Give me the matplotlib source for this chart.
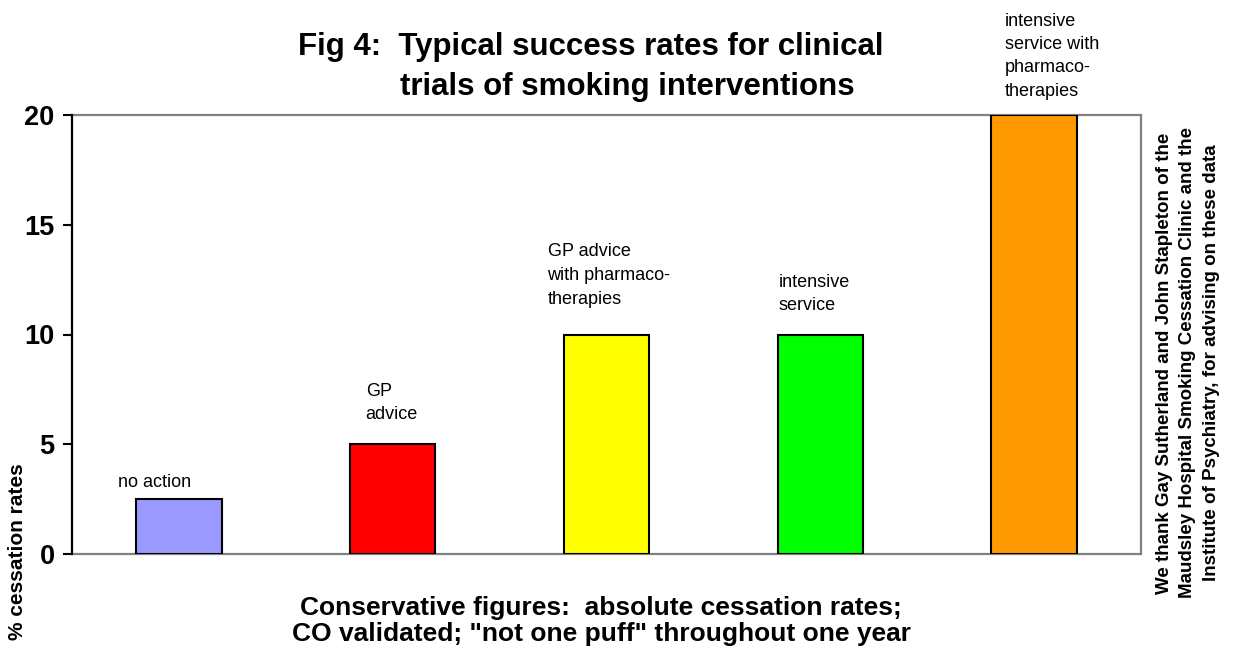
import matplotlib
matplotlib.use("Agg")
import matplotlib.pyplot as plt

# --- data -------------------------------------------------------------
categories = [
    "no action",
    "GP\nadvice",
    "GP advice\nwith pharmaco-\ntherapies",
    "intensive\nservice",
    "intensive\nservice with\npharmaco-\ntherapies",
]
rates = [2.5, 5, 10, 10, 20]
bar_colors = ["#9999FF", "#FF0000", "#FFFF00", "#00FF00", "#FF9900"]
y_ticks = [0, 5, 10, 15, 20]

title_lines = ["Fig 4:  Typical success rates for clinical",
               "trials of smoking interventions"]
x_label_lines = ["Conservative figures:  absolute cessation rates;",
                 'CO validated; "not one puff" throughout one year']
y_label = "% cessation rates"
credit = ("We thank Gay Sutherland and John Stapleton of the\n"
          "Maudsley Hospital Smoking Cessation Clinic and the\n"
          "Institute of Psychiatry, for advising on these data")

# label placement relative to each bar's centre / top, in pixels
label_dx = [-61, -27, -59, -42, -29]
label_dy = [8, 21, 27, 20, 15]

plt.rcParams["font.family"] = ["Liberation Sans", "DejaVu Sans"]

W, H = 1234, 650
fig = plt.figure(figsize=(W / 100, H / 100), dpi=100)

ax_l, ax_r, ax_t, ax_b = 72, 1141, 115, 554
ax = fig.add_axes([ax_l / W, 1 - ax_b / H, (ax_r - ax_l) / W, (ax_b - ax_t) / H])

x = list(range(len(rates)))
ax.bar(x, rates, width=0.4, color=bar_colors, edgecolor="black", linewidth=1.5, zorder=3)
ax.set_xlim(-0.5, len(rates) - 0.5)
ax.set_ylim(0, 20)
ax.set_yticks(y_ticks)
ax.set_yticklabels([str(t) for t in y_ticks], fontsize=19.5, fontweight="bold")
ax.set_xticks([])
ax.tick_params(axis="y", direction="out", length=6.5, width=1.5, color="black", pad=6)

for side in ("top", "right", "bottom"):
    ax.spines[side].set_color("#808080")
    ax.spines[side].set_linewidth(1.6)
ax.spines["left"].set_color("black")
ax.spines["left"].set_linewidth(1.6)
ax.spines["left"].set_zorder(5)

for i, (lab, val) in enumerate(zip(categories, rates)):
    ax.annotate(lab, xy=(i, val), xytext=(label_dx[i], label_dy[i]),
                textcoords="offset pixels", ha="left", va="bottom",
                fontsize=13, linespacing=1.5, annotation_clip=False)

# title (two lines, second one indented)
fig.text(298 / W, 1 - 55 / H, title_lines[0], fontsize=22.5, fontweight="bold",
         ha="left", va="baseline")
fig.text(400 / W, 1 - 95 / H, title_lines[1], fontsize=22.5, fontweight="bold",
         ha="left", va="baseline")

# axis titles
fig.text(601 / W, 1 - 615 / H, x_label_lines[0], fontsize=19,
         fontweight="bold", ha="center", va="baseline")
fig.text(601 / W, 1 - 641 / H, x_label_lines[1], fontsize=19,
         fontweight="bold", ha="center", va="baseline")
fig.text(18 / W, 1 - 552 / H, y_label, fontsize=15, fontweight="bold",
         rotation=90, ha="center", va="center")

# acknowledgement along the right edge
fig.text(1188 / W, 1 - 363 / H, credit, fontsize=13.5, fontweight="bold",
         rotation=90, ha="center", va="center", multialignment="center",
         linespacing=1.5)

fig.savefig("out.png", dpi=100)
